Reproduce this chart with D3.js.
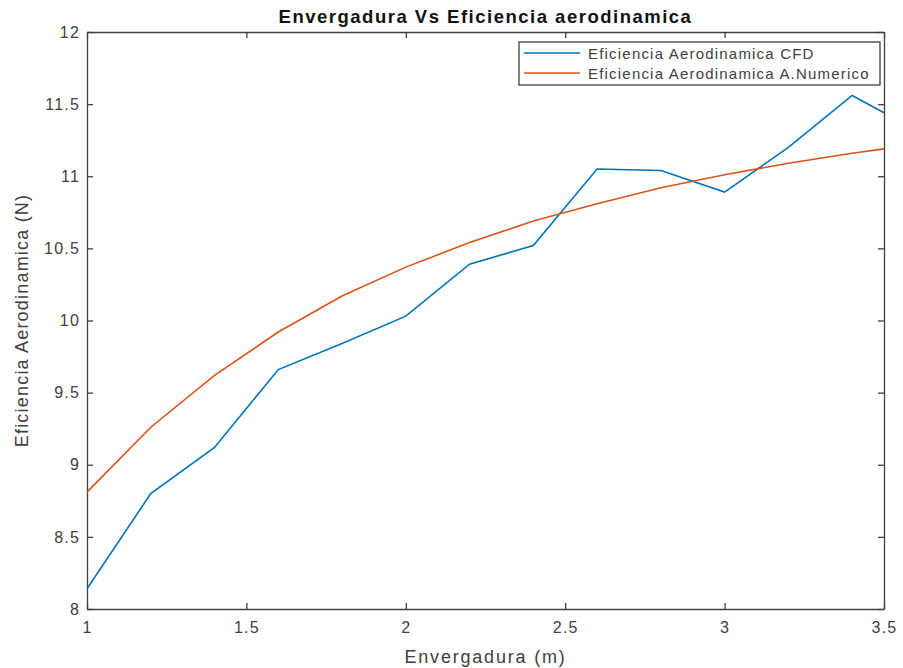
<!DOCTYPE html>
<html>
<head>
<meta charset="utf-8">
<script src="https://cdn.jsdelivr.net/npm/d3@7"></script>
<style>
  body { margin: 0; background: #fff; }
  text { font-family: "Liberation Sans", Arial, sans-serif; }
</style>
</head>
<body>
<div id="chart"></div>
<script>
// data
var envergadura = [1, 1.2, 1.4, 1.6, 1.8, 2, 2.2, 2.4, 2.6, 2.8, 3, 3.2, 3.4, 3.5];
var eficienciaCFD = [8.14, 8.80, 9.12, 9.66, 9.84, 10.03, 10.39, 10.52, 11.05, 11.04, 10.89, 11.20, 11.56, 11.44];
var eficienciaNum = [8.81, 9.26, 9.62, 9.92, 10.17, 10.37, 10.54, 10.69, 10.81, 10.92, 11.01, 11.09, 11.16, 11.19];
var xTicks = [1, 1.5, 2, 2.5, 3, 3.5];
var yTicks = [8, 8.5, 9, 9.5, 10, 10.5, 11, 11.5, 12];
var seriesNames = ["Eficiencia Aerodinamica CFD", "Eficiencia Aerodinamica A.Numerico"];
var seriesColors = ["#0072BD", "#D95319"];

var W = 903, H = 668;
var margin = {top: 32, right: 19, bottom: 59, left: 87};
var width = W - margin.left - margin.right;
var height = H - margin.top - margin.bottom;
var axisColor = "#404040";
var textColor = "#404040";

var svg = d3.select("#chart").append("svg")
  .attr("width", W).attr("height", H);

var g = svg.append("g")
  .attr("transform", "translate(" + margin.left + "," + margin.top + ")");

var x = d3.scaleLinear().domain([1, 3.5]).range([0, width]);
var y = d3.scaleLinear().domain([8, 12]).range([height, 0]);

// axes with inward ticks, MATLAB style box
function styleAxis(sel, showLabels) {
  sel.select(".domain").attr("stroke", axisColor).attr("stroke-width", 1.3);
  sel.selectAll(".tick line").attr("stroke", axisColor).attr("stroke-width", 1.3);
  sel.selectAll(".tick text").attr("fill", textColor)
    .style("font-size", "16px")
    .style("letter-spacing", "1.2px")
    .style("display", showLabels ? null : "none");
}

g.append("g").attr("transform", "translate(0," + height + ")")
  .call(d3.axisBottom(x).tickValues(xTicks).tickSizeInner(-6).tickSizeOuter(0).tickPadding(13)
    .tickFormat(d3.format("")))
  .call(styleAxis, true);

g.append("g")
  .call(d3.axisTop(x).tickValues(xTicks).tickSizeInner(-6).tickSizeOuter(0))
  .call(styleAxis, false);

g.append("g")
  .call(d3.axisLeft(y).tickValues(yTicks).tickSizeInner(-6).tickSizeOuter(0).tickPadding(7)
    .tickFormat(d3.format("")))
  .call(styleAxis, true);

g.append("g").attr("transform", "translate(" + width + ",0)")
  .call(d3.axisRight(y).tickValues(yTicks).tickSizeInner(-6).tickSizeOuter(0))
  .call(styleAxis, false);

// lines
var series = [eficienciaCFD, eficienciaNum];
var line = d3.line()
  .x(function(d, i) { return x(envergadura[i]); })
  .y(function(d) { return y(d); });

series.forEach(function(vals, k) {
  g.append("path")
    .datum(vals)
    .attr("fill", "none")
    .attr("stroke", seriesColors[k])
    .attr("stroke-width", 1.6)
    .attr("d", line);
});

// title and labels
svg.append("text")
  .attr("x", margin.left + width / 2).attr("y", 23)
  .attr("text-anchor", "middle")
  .style("font-size", "18.5px").style("font-weight", "bold")
  .style("letter-spacing", "1.5px")
  .attr("fill", "#111")
  .text("Envergadura Vs Eficiencia aerodinamica");

svg.append("text")
  .attr("x", margin.left + width / 2).attr("y", 663)
  .attr("text-anchor", "middle")
  .style("font-size", "18px")
  .style("letter-spacing", "1.8px")
  .attr("fill", textColor)
  .text("Envergadura (m)");

svg.append("text")
  .attr("transform", "translate(28," + (margin.top + height / 2) + ") rotate(-90)")
  .attr("text-anchor", "middle")
  .style("font-size", "18px")
  .style("letter-spacing", "1.2px")
  .attr("fill", textColor)
  .text("Eficiencia Aerodinamica (N)");

// legend
var legend = svg.append("g").attr("transform", "translate(519,42)");
legend.append("rect")
  .attr("width", 361).attr("height", 43)
  .attr("fill", "#fff")
  .attr("stroke", axisColor).attr("stroke-width", 1.3);

seriesNames.forEach(function(name, k) {
  var ly = 11 + k * 20;
  legend.append("line")
    .attr("x1", 5).attr("x2", 61)
    .attr("y1", ly).attr("y2", ly)
    .attr("stroke", seriesColors[k]).attr("stroke-width", 1.6);
  legend.append("text")
    .attr("x", 69).attr("y", ly + 5.5)
    .style("font-size", "15px")
    .style("letter-spacing", "1.2px")
    .attr("fill", textColor)
    .text(name);
});
</script>
</body>
</html>
